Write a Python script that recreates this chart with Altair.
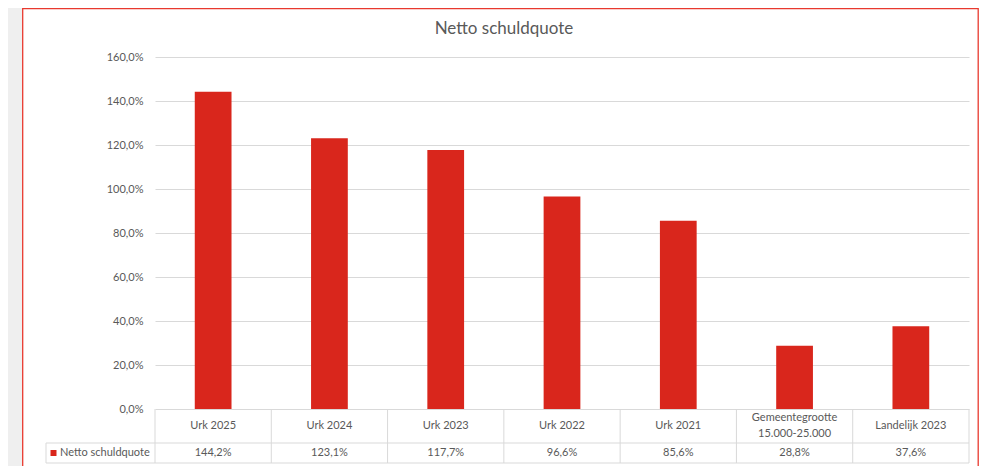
import altair as alt
import pandas as pd

categories = ["Urk 2025", "Urk 2024", "Urk 2023", "Urk 2022", "Urk 2021",
              "Gemeentegrootte\n15.000-25.000", "Landelijk 2023"]
values = [144.2, 123.1, 117.7, 96.6, 85.6, 28.8, 37.6]
series_name = "Netto schuldquote"
title_text = "Netto schuldquote"
y_ticks = [0, 20, 40, 60, 80, 100, 120, 140, 160]

df = pd.DataFrame({"cat": categories, "v": values})
one = pd.DataFrame({"k": [0]})

W, H = 814, 352
FONT = "Lato"
TXT = "#595959"
LINE = "#d9d9d9"
RED = "#d9261c"
FRAME = "#e8392e"
BG = "#efefef"

xenc = alt.X("cat:N", sort=categories, axis=None,
             scale=alt.Scale(paddingInner=0, paddingOuter=0))
pct = "replace(format(datum.v,'.1f'),'.',',') + '%'"

# decorative gray strip + red frame
strips = alt.Chart(one).mark_rect(fill=BG).encode(
    x=alt.value(-147), x2=alt.value(-132.3), y=alt.value(-49), y2=alt.value(410))
frame = alt.Chart(one).mark_rect(fillOpacity=0, stroke=FRAME, strokeWidth=1.3).encode(
    x=alt.value(-132.3), x2=alt.value(823.2), y=alt.value(-48.4), y2=alt.value(420))

bars = alt.Chart(df).mark_bar(color=RED, width=alt.RelativeBandSize(0.316)).encode(
    x=xenc,
    y=alt.Y("v:Q", scale=alt.Scale(domain=[0, 160], nice=False),
            axis=alt.Axis(values=y_ticks, title=None, domain=False, ticks=False,
                          labelExpr="replace(format(datum.value,'.1f'),'.',',') + '%'",
                          labelPadding=12, gridColor=LINE, gridWidth=1,
                          labelColor=TXT, labelFont=FONT, labelFontSize=11)),
)

vlines = alt.Chart(df).mark_rule(color=LINE, strokeWidth=1).encode(
    x=alt.X("cat:N", sort=categories, axis=None, bandPosition=0,
            scale=alt.Scale(paddingInner=0, paddingOuter=0)),
    y=alt.value(H), y2=alt.value(406))
right_edge = alt.Chart(one).mark_rule(color=LINE).encode(
    x=alt.value(W), y=alt.value(H), y2=alt.value(406))
hlines = alt.Chart(pd.DataFrame({"yy": [386, 406]})).mark_rule(color=LINE).encode(
    y=alt.Y("yy:Q", scale=None), x=alt.value(-109), x2=alt.value(W))
left_cell = alt.Chart(one).mark_rule(color=LINE).encode(
    x=alt.value(-109), y=alt.value(386), y2=alt.value(406))

cat_single = alt.Chart(df).transform_filter("indexof(datum.cat, '\\n') < 0").mark_text(
    font=FONT, fontSize=11, color=TXT, baseline="middle").encode(
    x=xenc, y=alt.value(368.5), text="cat:N")
cat_multi = alt.Chart(df).transform_filter("indexof(datum.cat, '\\n') >= 0").mark_text(
    font=FONT, fontSize=11, color=TXT, baseline="middle",
    lineBreak="\n", lineHeight=16).encode(
    x=xenc, y=alt.value(361), text="cat:N")
val_text = alt.Chart(df).transform_calculate(lab=pct).mark_text(
    font=FONT, fontSize=11, color=TXT, baseline="middle").encode(
    x=xenc, y=alt.value(396), text="lab:N")

leg = pd.DataFrame({"name": [series_name]})
leg_sym = alt.Chart(leg).mark_square(color=RED, size=36, opacity=1).encode(
    x=alt.value(-101.5), y=alt.value(396))
leg_text = alt.Chart(leg).mark_text(font=FONT, fontSize=11, color=TXT, align="left",
                                    baseline="middle").encode(
    x=alt.value(-95), y=alt.value(396), text="name:N")

title = alt.Chart(pd.DataFrame({"t": [title_text]})).mark_text(
    font=FONT, fontSize=17, color=TXT, align="center", baseline="alphabetic").encode(
    x=alt.value(349), y=alt.value(-23), text="t:N")

chart = alt.layer(strips, frame, bars, vlines, right_edge, hlines, left_cell,
                  cat_single, cat_multi, val_text, leg_sym, leg_text, title).properties(
    width=W, height=H,
    autosize=alt.AutoSizeParams(type="none"),
    padding={"left": 147, "top": 49, "right": 10, "bottom": 57},
    background="white",
).configure_view(stroke=None)

chart.save("out.html", embed_options={"renderer": "svg", "actions": False})
